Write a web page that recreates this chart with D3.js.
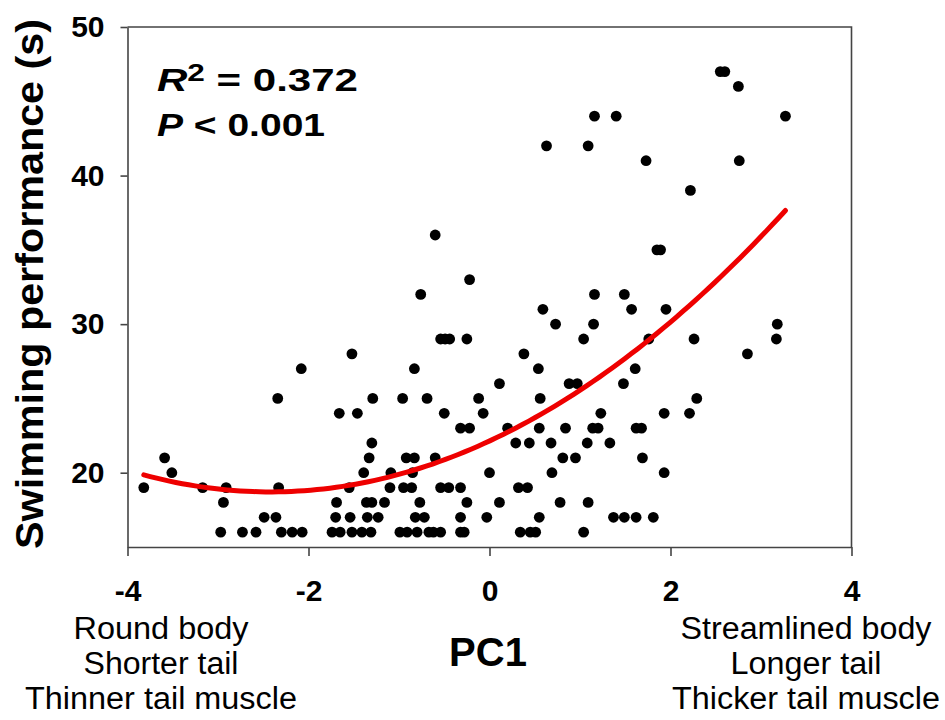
<!DOCTYPE html>
<html>
<head>
<meta charset="utf-8">
<script src="https://cdn.jsdelivr.net/npm/d3@7"></script>
<style>
  body { margin: 0; background: #fff; }
  text { font-family: "Liberation Sans", Arial, sans-serif; }
</style>
</head>
<body>
<div id="chart"></div>
<script>
// swimming time levels (s) - the dots sit on whole seconds
const swimLevels = [16, 17, 18, 19, 20, 21, 22, 23, 24, 25, 26, 27, 28, 29, 30, 31, 32, 33, 35, 36, 39, 41, 42, 44, 46, 47];

// PC1 scores of the tadpoles at each level above (same order)
const pc1Rows = [
  [-2.97, -2.73, -2.58, -2.30, -2.18, -2.07, -1.74, -1.65, -1.52, -1.41, -1.31, -0.99, -0.91, -0.80, -0.67, -0.62, -0.54, -0.32, -0.28, 0.34, 0.45, 0.51, 1.04],
  [-2.49, -2.36, -1.70, -1.54, -1.35, -1.23, -0.82, -0.72, -0.32, -0.03, 0.55, 1.37, 1.49, 1.62, 1.81],
  [-2.94, -1.69, -1.36, -1.30, -1.16, -0.77, -0.25, 0.11, 0.78, 1.09],
  [-3.82, -3.17, -2.91, -2.33, -1.55, -1.10, -0.95, -0.86, -0.54, -0.45, -0.32, 0.32, 0.42],
  [-3.51, -1.39, -1.09, -0.85, 0.00, 0.69, 1.93],
  [-3.59, -1.33, -0.92, -0.83, -0.60, 0.81, 0.95, 1.69],
  [-1.30, 0.29, 0.44, 0.68, 1.08, 1.33],
  [-0.32, -0.22, 0.20, 0.55, 0.84, 1.14, 1.20, 1.62, 1.68],
  [-1.66, -1.46, -0.50, -0.07, 1.23, 1.93, 2.21],
  [-2.34, -1.29, -0.96, -0.69, -0.12, 0.56, 2.29],
  [0.11, 0.88, 0.97, 1.48],
  [-2.08, -0.83, 0.54, 1.61],
  [-1.52, 0.38, 2.85],
  [-0.54, -0.49, -0.44, -0.25, 1.04, 1.76, 2.26, 3.17],
  [0.73, 1.15, 3.18],
  [0.59, 1.57, 1.95],
  [-0.76, 1.16, 1.49],
  [-0.22],
  [1.85, 1.89],
  [-0.60],
  [2.22],
  [1.73, 2.76],
  [0.63, 1.09],
  [1.16, 1.40, 3.27],
  [2.75],
  [2.55, 2.60]
];

const xTicks = [-4, -2, 0, 2, 4];
const yTicks = [20, 30, 40, 50];
const leftNotes = ["Round body", "Shorter tail", "Thinner tail muscle"];
const rightNotes = ["Streamlined body", "Longer tail", "Thicker tail muscle"];
const r2Text = "0.372";
const pText = "0.001";

const data = swimLevels.flatMap((t, i) => pc1Rows[i].map(v => ({ pc1: v, time: t })));

const width = 945, height = 720;
const plot = { left: 127.5, right: 851.5, top: 27, bottom: 547 };

const svg = d3.select("#chart").append("svg")
  .attr("width", width)
  .attr("height", height);

const x = d3.scaleLinear().domain([-4, 4]).range([plot.left, plot.right]);
const y = d3.scaleLinear().domain([15, 50]).range([plot.bottom, plot.top]);

// quadratic least squares fit of time on PC1
function quadFit(pts) {
  let s = Array(5).fill(0), t = [0, 0, 0];
  pts.forEach(d => {
    for (let k = 0; k < 5; k++) s[k] += Math.pow(d.pc1, k);
    for (let k = 0; k < 3; k++) t[k] += d.time * Math.pow(d.pc1, k);
  });
  const m = [[s[0], s[1], s[2], t[0]], [s[1], s[2], s[3], t[1]], [s[2], s[3], s[4], t[2]]];
  for (let i = 0; i < 3; i++) {
    for (let j = i + 1; j < 3; j++) {
      const f = m[j][i] / m[i][i];
      for (let k = i; k < 4; k++) m[j][k] -= f * m[i][k];
    }
  }
  const c = [0, 0, 0];
  for (let i = 2; i >= 0; i--) {
    let v = m[i][3];
    for (let k = i + 1; k < 3; k++) v -= m[i][k] * c[k];
    c[i] = v / m[i][i];
  }
  return c;
}
const coef = quadFit(data);
const [xMin, xMax] = d3.extent(data, d => d.pc1);
const fitLine = d3.range(0, 101).map(i => {
  const v = xMin + (xMax - xMin) * i / 100;
  return [v, coef[0] + coef[1] * v + coef[2] * v * v];
});

// frame (top and right)
svg.append("path")
  .attr("d", `M${plot.left},${plot.top}H${plot.right}V${plot.bottom}`)
  .attr("fill", "none")
  .attr("stroke", "#444")
  .attr("stroke-width", 1.6);

// plain hyphen for negatives, like the original figure
const plainNum = d => String(d);
const xAxis = d3.axisBottom(x).tickValues(xTicks).tickFormat(plainNum).tickSize(9).tickSizeOuter(0).tickPadding(24);
const yAxis = d3.axisLeft(y).tickValues(yTicks).tickFormat(plainNum).tickSize(7).tickSizeOuter(0).tickPadding(16);

function styleAxis(g) {
  g.selectAll("path, line").attr("stroke", "#444").attr("stroke-width", 1.6);
  g.selectAll("text")
    .attr("fill", "#000")
    .style("font-size", "30px")
    .style("font-weight", "bold")
    .style("font-family", "'Liberation Sans', Arial, sans-serif");
}

svg.append("g")
  .attr("transform", `translate(0,${plot.bottom})`)
  .call(xAxis)
  .call(styleAxis);

svg.append("g")
  .attr("transform", `translate(${plot.left},0)`)
  .call(yAxis)
  .call(styleAxis);

// dots
svg.append("g")
  .selectAll("circle")
  .data(data)
  .enter().append("circle")
  .attr("cx", d => x(d.pc1))
  .attr("cy", d => y(d.time))
  .attr("r", 5.4)
  .attr("fill", "#000");

// fitted curve
svg.append("path")
  .datum(fitLine)
  .attr("d", d3.line().x(d => x(d[0])).y(d => y(d[1])))
  .attr("fill", "none")
  .attr("stroke", "#ee0000")
  .attr("stroke-width", 5)
  .attr("stroke-linecap", "round");

// statistics
const r2 = svg.append("text")
  .attr("x", 157)
  .attr("y", 91)
  .attr("textLength", 201)
  .attr("lengthAdjust", "spacingAndGlyphs")
  .style("font-size", "32px")
  .style("font-weight", "bold");
r2.append("tspan").style("font-style", "italic").text("R");
r2.append("tspan").attr("dy", -10).style("font-size", "24px").text("2");
r2.append("tspan").attr("dy", 10).text(" = " + r2Text);

const pLine = svg.append("text")
  .attr("x", 157)
  .attr("y", 136)
  .attr("textLength", 168)
  .attr("lengthAdjust", "spacingAndGlyphs")
  .style("font-size", "32px")
  .style("font-weight", "bold");
pLine.append("tspan").style("font-style", "italic").text("P");
pLine.append("tspan").text(" < " + pText);

// axis titles
svg.append("text")
  .attr("transform", "translate(43,284) rotate(-90)")
  .attr("text-anchor", "middle")
  .attr("textLength", 530)
  .attr("lengthAdjust", "spacingAndGlyphs")
  .style("font-size", "39px")
  .style("font-weight", "bold")
  .text("Swimming performance (s)");

svg.append("text")
  .attr("x", 488)
  .attr("y", 666)
  .attr("text-anchor", "middle")
  .style("font-size", "40px")
  .style("font-weight", "bold")
  .text("PC1");

// end descriptors under the x axis
const noteWidthsL = [175, 155, 272];
const noteWidthsR = [251, 151, 268];
svg.selectAll("text.noteL")
  .data(leftNotes)
  .enter().append("text")
  .attr("class", "noteL")
  .attr("x", 161)
  .attr("y", (d, i) => 639 + i * 35)
  .attr("text-anchor", "middle")
  .attr("textLength", (d, i) => noteWidthsL[i])
  .attr("lengthAdjust", "spacingAndGlyphs")
  .style("font-size", "31px")
  .text(d => d);

svg.selectAll("text.noteR")
  .data(rightNotes)
  .enter().append("text")
  .attr("class", "noteR")
  .attr("x", 806)
  .attr("y", (d, i) => 639 + i * 35)
  .attr("text-anchor", "middle")
  .attr("textLength", (d, i) => noteWidthsR[i])
  .attr("lengthAdjust", "spacingAndGlyphs")
  .style("font-size", "31px")
  .text(d => d);
</script>
</body>
</html>
